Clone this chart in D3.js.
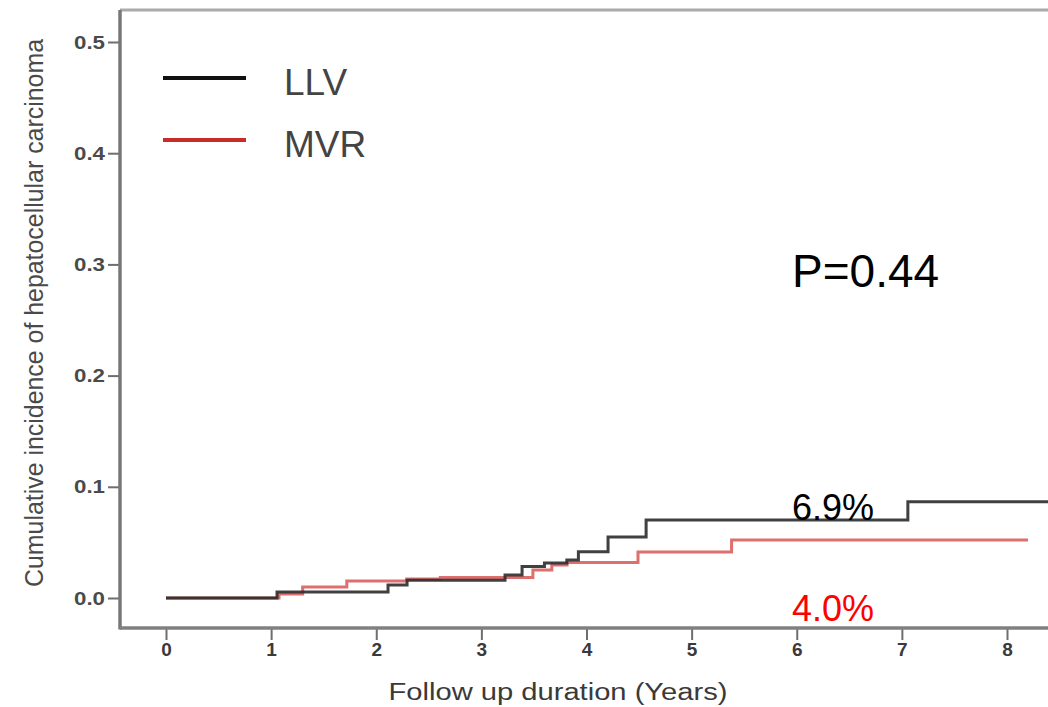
<!DOCTYPE html>
<html>
<head>
<meta charset="utf-8">
<script src="https://cdn.jsdelivr.net/npm/d3@7"></script>
<style>
  html, body { margin: 0; padding: 0; background: #fff; }
  svg { display: block; font-family: "Liberation Sans", Arial, sans-serif; }
</style>
</head>
<body>
<svg id="chart" width="1048" height="707"></svg>
<script>
// Cumulative incidence step curves (time in years, cumulative incidence)
const llvTimes  = [0, 1.056, 2.112, 2.293, 3.225, 3.387, 3.60, 3.813, 3.923, 4.205, 4.567, 7.057, 8.5];
const llvValues = [0, 0.0054, 0.0117, 0.0160, 0.0207, 0.0283, 0.0315, 0.0342, 0.0416, 0.0549, 0.0701, 0.0866, 0.0866];
const mvrTimes  = [0, 1.075, 1.30, 1.72, 2.29, 2.61, 3.49, 3.67, 3.815, 4.49, 5.38, 8.20];
const mvrValues = [0, 0.0036, 0.0099, 0.0153, 0.0171, 0.0185, 0.0252, 0.0297, 0.0320, 0.0414, 0.0522, 0.0522];

const xTicks = [0, 1, 2, 3, 4, 5, 6, 7, 8];
const yTicks = [0, 0.1, 0.2, 0.3, 0.4, 0.5];

const seriesNames = ["LLV", "MVR"];
const seriesColors = ["#2b2b2b", "#d9615f"];
const legendColors = ["#111111", "#c92a2a"];

const pLabel = "P=0.44";
const llvLabel = "6.9%";
const mvrLabel = "4.0%";

const svg = d3.select("#chart");

const x = d3.scaleLinear().domain([0, 8]).range([166, 1007]);
const y = d3.scaleLinear().domain([0, 0.5]).range([598, 42]);

const plotLeft = 120, plotTop = 10, plotBottom = 628, plotRight = 1048;

// frame: top border and the two axis lines
svg.append("line")
  .attr("x1", plotLeft).attr("x2", plotRight)
  .attr("y1", plotTop).attr("y2", plotTop)
  .attr("stroke", "#aaaaaa").attr("stroke-width", 3);

// y axis
const yAxis = svg.append("g")
  .attr("transform", `translate(${plotLeft},0)`)
  .call(d3.axisLeft(y).tickValues(yTicks).tickFormat(d3.format(".1f"))
        .tickSize(12).tickPadding(3));
yAxis.select(".domain").remove();
yAxis.selectAll(".tick line").attr("stroke", "#6e6e6e").attr("stroke-width", 2);
yAxis.selectAll(".tick text")
  .attr("fill", "#4a4a4a")
  .style("font-size", "19px")
  .style("font-weight", "bold")
  .attr("textLength", 31)
  .attr("lengthAdjust", "spacingAndGlyphs");

// x axis
const xAxis = svg.append("g")
  .attr("transform", `translate(0,${plotBottom})`)
  .call(d3.axisBottom(x).tickValues(xTicks).tickFormat(d3.format("d"))
        .tickSize(12).tickPadding(3));
xAxis.select(".domain").remove();
xAxis.selectAll(".tick line").attr("stroke", "#6e6e6e").attr("stroke-width", 2);
xAxis.selectAll(".tick text")
  .attr("fill", "#3a3a3a")
  .style("font-size", "19px")
  .style("font-weight", "bold");

svg.append("line")
  .attr("x1", plotLeft).attr("x2", plotLeft)
  .attr("y1", plotTop).attr("y2", plotBottom + 1.5)
  .attr("stroke", "#777777").attr("stroke-width", 3.5);
svg.append("line")
  .attr("x1", plotLeft).attr("x2", plotRight)
  .attr("y1", plotBottom).attr("y2", plotBottom)
  .attr("stroke", "#808080").attr("stroke-width", 3.5);

// step curves
const line = d3.line()
  .x(d => x(d[0]))
  .y(d => y(d[1]))
  .curve(d3.curveStepAfter);

const mvrData = mvrTimes.map((t, i) => [t, mvrValues[i]]);
const llvData = llvTimes.map((t, i) => [t, llvValues[i]]);

svg.append("path")
  .datum(mvrData)
  .attr("fill", "none")
  .attr("stroke", seriesColors[1])
  .attr("stroke-width", 3)
  .attr("opacity", 0.9)
  .attr("d", line);

svg.append("path")
  .datum(llvData)
  .attr("fill", "none")
  .attr("stroke", seriesColors[0])
  .attr("stroke-width", 3)
  .attr("opacity", 0.9)
  .attr("d", line);

// legend
const legend = svg.append("g");
seriesNames.forEach((name, i) => {
  const ly = 78 + i * 62;
  legend.append("line")
    .attr("x1", 163).attr("x2", 246)
    .attr("y1", ly).attr("y2", ly)
    .attr("stroke", legendColors[i]).attr("stroke-width", 4);
  legend.append("text")
    .attr("x", 284).attr("y", ly + 17)
    .attr("fill", "#444444")
    .style("font-size", "37px")
    .text(name);
});

// annotations
svg.append("text")
  .attr("x", 792).attr("y", 287)
  .attr("fill", "#000")
  .style("font-size", "46px")
  .text(pLabel);

svg.append("text")
  .attr("x", 792).attr("y", 520)
  .attr("fill", "#000")
  .style("font-size", "36px")
  .text(llvLabel);

svg.append("text")
  .attr("x", 792).attr("y", 621)
  .attr("fill", "#ff0000")
  .style("font-size", "36px")
  .text(mvrLabel);

// axis titles
svg.append("text")
  .attr("x", 558).attr("y", 700)
  .attr("text-anchor", "middle")
  .attr("fill", "#3a3a3a")
  .style("font-size", "23px")
  .attr("textLength", 339)
  .attr("lengthAdjust", "spacingAndGlyphs")
  .text("Follow up duration (Years)");

svg.append("text")
  .attr("transform", "translate(43,313) rotate(-90)")
  .attr("text-anchor", "middle")
  .attr("fill", "#4a4a4a")
  .style("font-size", "25px")
  .attr("textLength", 548)
  .attr("lengthAdjust", "spacingAndGlyphs")
  .text("Cumulative incidence of hepatocellular carcinoma");
</script>
</body>
</html>
